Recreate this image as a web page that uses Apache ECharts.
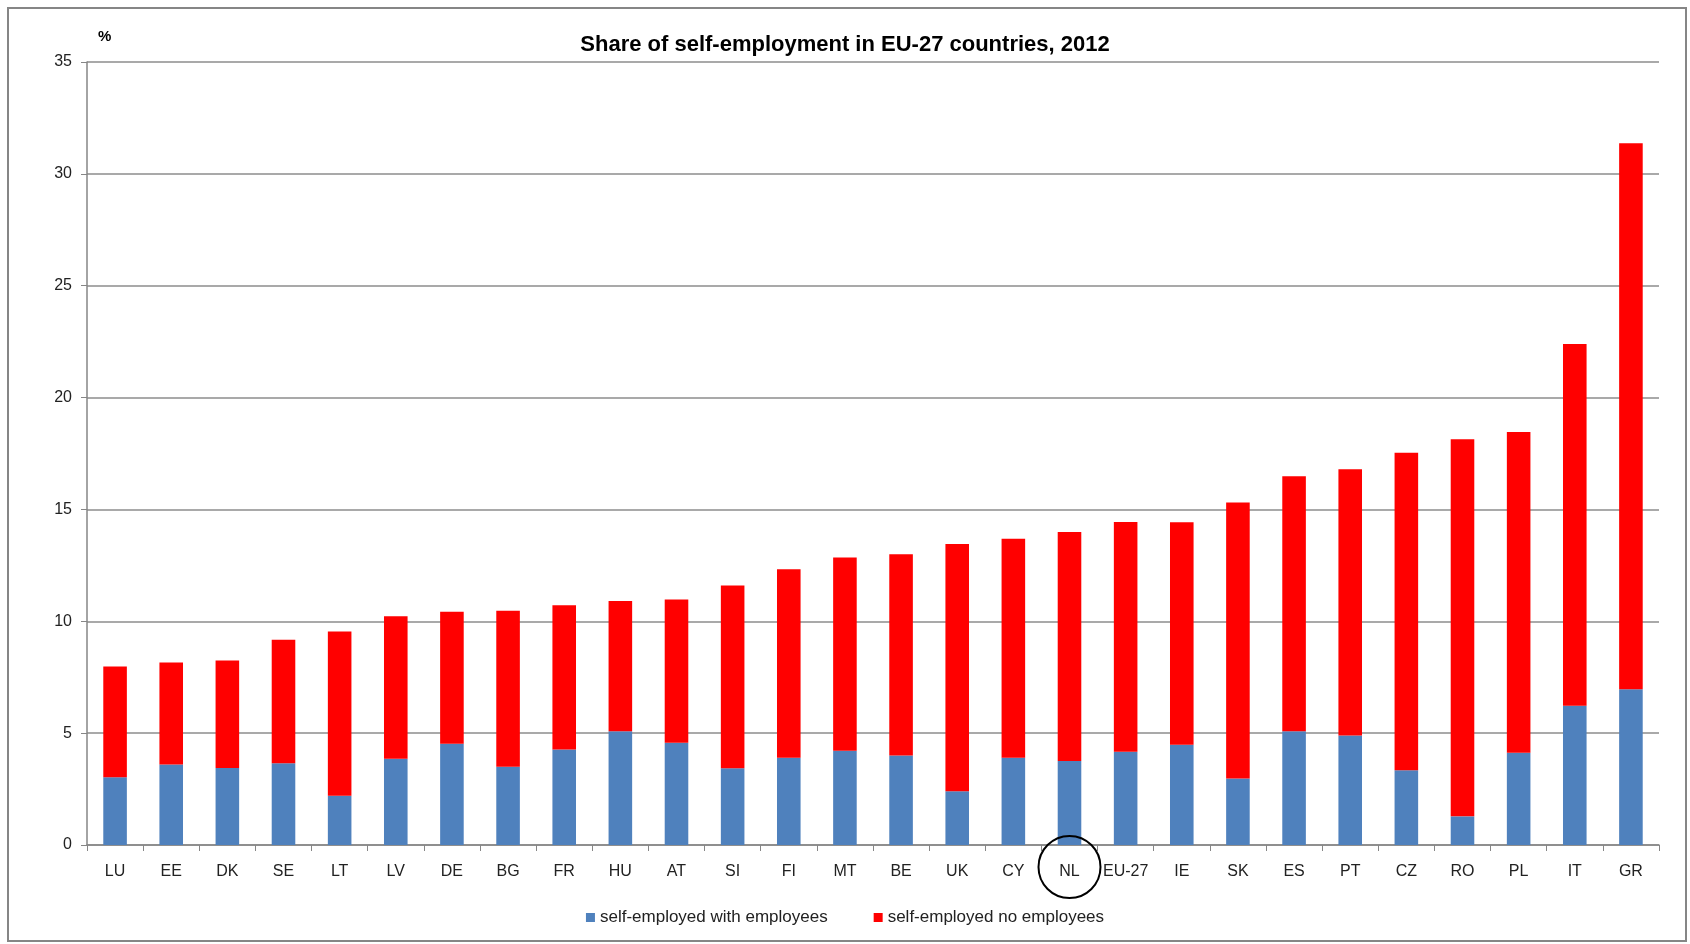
<!DOCTYPE html>
<html>
<head>
<meta charset="utf-8">
<script src="https://cdn.jsdelivr.net/npm/echarts@6/dist/echarts.min.js"></script>
<style>
html,body{margin:0;padding:0;background:#fff;}
#chart{width:1690px;height:944px;}
</style>
</head>
<body>
<div id="chart"></div>
<script>
const categories = ['LU','EE','DK','SE','LT','LV','DE','BG','FR','HU','AT','SI','FI','MT','BE','UK','CY','NL','EU-27','IE','SK','ES','PT','CZ','RO','PL','IT','GR'];
const withEmployees = [3.03,3.6,3.44,3.65,2.2,3.86,4.53,3.5,4.27,5.09,4.57,3.43,3.9,4.21,4.0,2.4,3.9,3.75,4.17,4.48,2.97,5.09,4.9,3.34,1.28,4.12,6.23,6.96];
const totals = [7.98,8.16,8.25,9.18,9.54,10.22,10.43,10.47,10.72,10.91,10.97,11.6,12.33,12.85,13.0,13.46,13.69,13.99,14.44,14.43,15.31,16.48,16.8,17.53,18.14,18.46,22.4,31.37];
const noEmployees = totals.map((t,i)=>+(t-withEmployees[i]).toFixed(2));
const yTicks = [0,5,10,15,20,25,30,35];
const seriesNames = ['self-employed with employees','self-employed no employees'];
const highlighted = 'NL';

const FONT = '"Liberation Sans", Arial, sans-serif';
const chart = echarts.init(document.getElementById('chart'));
const option = {
  animation:false,
  backgroundColor:'#fff',
  title:{
    text:'Share of self-employment in EU-27 countries, 2012',
    left:'center', top:29,
    textStyle:{fontFamily:FONT,fontSize:22,fontWeight:'bold',color:'#000'}
  },
  legend:{
    data:seriesNames,
    bottom:13,
    left:'center',
    itemWidth:9,itemHeight:9,itemGap:46,
    icon:'rect',
    textStyle:{fontFamily:FONT,fontSize:17,color:'#222'}
  },
  grid:{left:87,right:31,top:62,bottom:99,containLabel:false},
  xAxis:{
    type:'category',
    data:categories,
    axisLine:{lineStyle:{color:'#868686',width:1.5}},
    axisTick:{show:true,length:6,lineStyle:{color:'#868686'}},
    axisLabel:{fontFamily:FONT,fontSize:16,color:'#222',margin:19,interval:0}
  },
  yAxis:{
    type:'value',
    min:yTicks[0],max:yTicks[yTicks.length-1],interval:5,
    name:'%',
    nameLocation:'end',
    nameGap:18,
    nameTextStyle:{fontFamily:FONT,fontSize:15,fontWeight:'bold',color:'#000',align:'left',padding:[0,0,0,11]},
    axisLine:{show:true,lineStyle:{color:'#868686',width:1.5}},
    axisTick:{show:true,length:6,lineStyle:{color:'#868686'}},
    axisLabel:{fontFamily:FONT,fontSize:16,color:'#222',margin:15},
    splitLine:{lineStyle:{color:'#8c8c8c',width:1.5}}
  },
  series:[
    {name:seriesNames[0],type:'bar',stack:'s',data:withEmployees,barWidth:'42%',itemStyle:{color:'#4F81BD'}},
    {name:seriesNames[1],type:'bar',stack:'s',data:noEmployees,barWidth:'42%',itemStyle:{color:'#FF0000'}}
  ]
};
chart.setOption(option);

// annotation circle around highlighted category label, and outer frame
const cx = chart.convertToPixel({xAxisIndex:0}, highlighted);
const y0 = chart.convertToPixel({yAxisIndex:0}, 0);
chart.setOption({
  graphic:[
    {type:'rect',shape:{x:8,y:8,width:1678,height:933},style:{fill:'none',stroke:'#868686',lineWidth:2},silent:true},
    {type:'circle',shape:{cx:cx,cy:y0+22,r:31},style:{fill:'none',stroke:'#000',lineWidth:2},silent:true,z:100}
  ]
});
</script>
</body>
</html>
